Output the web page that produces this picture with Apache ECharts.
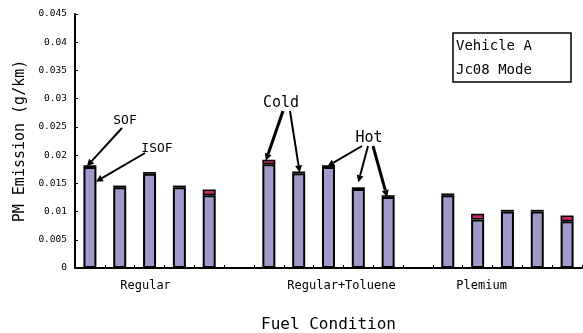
<!DOCTYPE html>
<html><head><meta charset="utf-8">
<script src="https://cdn.jsdelivr.net/npm/echarts@6/dist/echarts.min.js"></script>
<style>html,body{margin:0;padding:0;background:#fff}#c{width:583px;height:333px}</style>
</head><body><div id="c"></div>
<script>
const categories = ['R1','R2','R3','R4','R5','gap1','RT1','RT2','RT3','RT4','RT5','gap2','P1','P2','P3','P4','P5'];
const groupLabels = {2:'Regular', 8:'Regular+Toluene', 13:'Plemium'};
const isofPM = [0.0179,0.0143,0.0167,0.0143,0.0129,null,0.0184,0.0168,0.0179,0.0140,0.0126,null,0.0129,0.0086,0.0100,0.0100,0.0083];
const sofPM  = [0.0003,0.0003,0.0003,0.0003,0.0010,null,0.0008,0.0003,0.0003,0.0003,0.0003,null,0.0003,0.0010,0.0003,0.0003,0.0010];
const yMin = 0, yMax = 0.045, yStep = 0.005;

const FONT = 'DejaVu Sans Mono';
const chart = echarts.init(document.getElementById('c'));
chart.setOption({
  animation:false,
  backgroundColor:'#fff',
  grid:{left:75,right:1,top:14,bottom:65,containLabel:false,outerBoundsMode:'none'},
  xAxis:{
    type:'category', data:categories, boundaryGap:true,
    name:'Fuel Condition', nameLocation:'middle', nameGap:49,
    nameTextStyle:{fontFamily:FONT,fontSize:16,color:'#000'},
    axisLine:{lineStyle:{color:'#000',width:2}},
    axisTick:{show:true,inside:true,length:3,interval:0,lineStyle:{color:'#000',width:1}},
    axisLabel:{
      interval:0, margin:12,
      formatter:(v,i)=>{
        if(i===2) return '{a|' + groupLabels[2] + '}';
        if(i===8) return '{b|' + groupLabels[8] + '}';
        if(i===13) return '{c|' + groupLabels[13] + '}';
        return '';
      },
      rich:{
        a:{fontFamily:FONT,fontSize:12,color:'#000',padding:[0,8,0,0]},
        b:{fontFamily:FONT,fontSize:12,color:'#000',padding:[0,0,0,26]},
        c:{fontFamily:FONT,fontSize:12,color:'#000',padding:[0,0,0,8]}
      }
    },
    splitLine:{show:false}
  },
  yAxis:{
    type:'value', min:yMin, max:yMax, interval:yStep,
    name:'PM Emission (g/km)', nameLocation:'middle', nameGap:46,
    nameTextStyle:{fontFamily:FONT,fontSize:15,color:'#000'},
    axisLine:{show:true,lineStyle:{color:'#000',width:2}},
    axisTick:{show:true,inside:true,length:3,lineStyle:{color:'#000',width:1}},
    axisLabel:{fontFamily:FONT,fontSize:9.5,color:'#000',margin:8,
      formatter:v=>v===0?'0':String(+v.toFixed(3))},
    splitLine:{show:false}
  },
  series:[
    {name:'ISOF',type:'bar',stack:'pm',data:isofPM,barWidth:13,
     itemStyle:{color:'#9e9acb',borderColor:'#000',borderWidth:2}},
    {name:'SOF',type:'bar',stack:'pm',data:sofPM,barWidth:13,
     itemStyle:{color:'#c8285f',borderColor:'#000',borderWidth:1.5}}
  ]
});

function barTop(i){ return chart.convertToPixel({xAxisIndex:0,yAxisIndex:0},[i,(isofPM[i]||0)+(sofPM[i]||0)]); }
function at(i,v){ return chart.convertToPixel({xAxisIndex:0,yAxisIndex:0},[i,v]); }
function arrow(x1,y1,x2,y2,w){
  const dx=x2-x1, dy=y2-y1, L=Math.hypot(dx,dy), ux=dx/L, uy=dy/L;
  const hl=7, hw=3.5;
  const bx=x2-ux*hl, by=y2-uy*hl;
  return [
    {type:'line',shape:{x1:x1,y1:y1,x2:bx,y2:by},style:{stroke:'#000',lineWidth:w}},
    {type:'polygon',shape:{points:[[x2,y2],[bx-uy*hw,by+ux*hw],[bx+uy*hw,by-ux*hw]]},style:{fill:'#000'}}
  ];
}
function txt(x,y,t,fs){
  return {type:'text',x:x,y:y,style:{text:t,fontFamily:FONT,fontSize:fs,fill:'#000',align:'center',verticalAlign:'middle'}};
}
const g=[];
let p;
p=barTop(0); g.push(...arrow(122,128,p[0]-3,p[1]+1,2));
p=at(0,0.0153); g.push(...arrow(145,153,p[0]+6,p[1],2));
p=barTop(6); g.push(...arrow(283,111,p[0]-3,p[1]+1,3));
p=barTop(7); g.push(...arrow(290,111,p[0]+1,p[1]+1,2));
p=barTop(8); g.push(...arrow(362,146,p[0]-1,p[1]+1,2));
p=barTop(9); g.push(...arrow(368,146,p[0],p[1]-5,2));
p=barTop(10); g.push(...arrow(373,146,p[0]-1,p[1]+2,3));
g.push(txt(125,121,'SOF',13), txt(157,149,'ISOF',13), txt(281,103,'Cold',15), txt(369,138,'Hot',15));
g.push({type:'rect',shape:{x:453,y:33,width:118,height:49},style:{fill:'#fff',stroke:'#000',lineWidth:1.5}});
g.push({type:'text',x:456,y:46,style:{text:'Vehicle A',fontFamily:FONT,fontSize:14,fill:'#000',align:'left',verticalAlign:'middle'}});
g.push({type:'text',x:456,y:70,style:{text:'Jc08 Mode',fontFamily:FONT,fontSize:14,fill:'#000',align:'left',verticalAlign:'middle'}});
chart.setOption({graphic:g});
</script></body></html>
